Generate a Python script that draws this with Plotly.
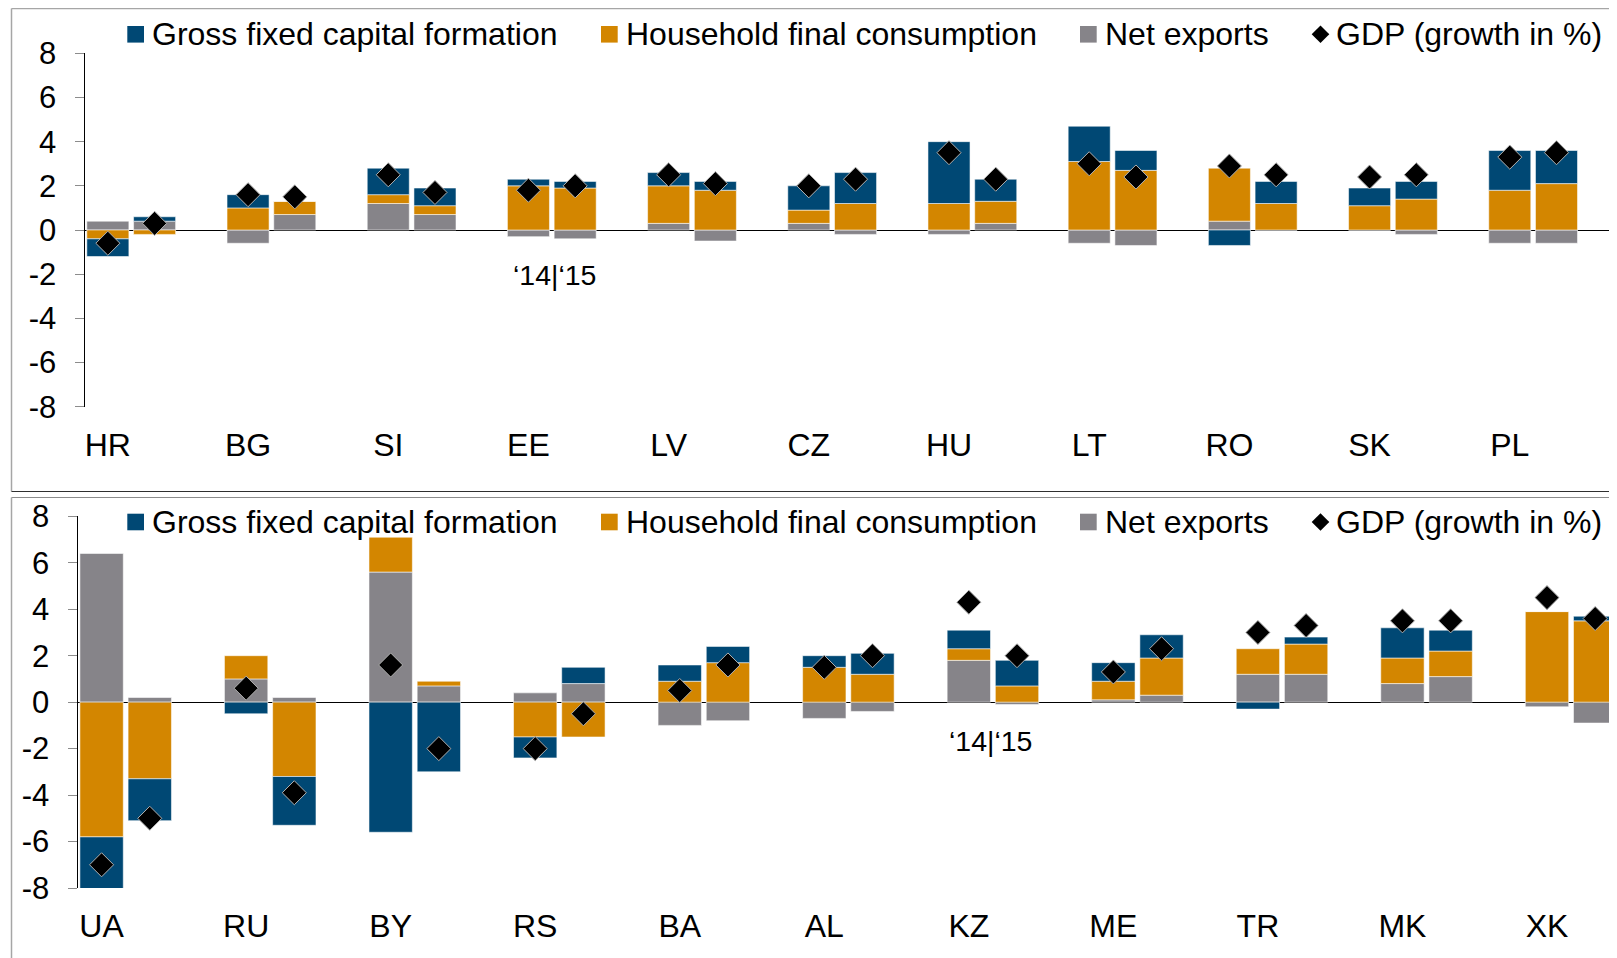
import plotly.graph_objects as go

# reference canvas and page offset of the plot div (body margin)
REF_W, REF_H = 1617, 958
OFF = 8
W, H = REF_W - OFF, REF_H - OFF

# ---------------- data ----------------
top_countries = ["HR", "BG", "SI", "EE", "LV", "CZ", "HU", "LT", "RO", "SK", "PL"]
top_net_14 = [0.4, -0.6, 1.2, -0.3, 0.3, 0.3, -0.2, -0.6, 0.4, 0.0, -0.6]
top_net_15 = [0.4, 0.7, 0.7, -0.4, -0.5, -0.2, 0.3, -0.7, 0.0, -0.2, -0.6]
top_hh_14 = [-0.4, 1.0, 0.4, 2.0, 1.7, 0.6, 1.2, 3.1, 2.4, 1.1, 1.8]
top_hh_15 = [-0.2, 0.6, 0.4, 1.9, 1.8, 1.2, 1.0, 2.7, 1.2, 1.4, 2.1]
top_gfcf_14 = [-0.8, 0.6, 1.2, 0.3, 0.6, 1.1, 2.8, 1.6, -0.7, 0.8, 1.8]
top_gfcf_15 = [0.2, 0.0, 0.8, 0.3, 0.4, 1.4, 1.0, 0.9, 1.0, 0.8, 1.5]
top_gdp_14 = [-0.6, 1.6, 2.5, 1.8, 2.5, 2.0, 3.5, 3.0, 2.9, 2.4, 3.3]
top_gdp_15 = [0.3, 1.5, 1.7, 2.0, 2.1, 2.3, 2.3, 2.4, 2.5, 2.5, 3.5]

bot_countries = ["UA", "RU", "BY", "RS", "BA", "AL", "KZ", "ME", "TR", "MK", "XK"]
bot_net_14 = [6.4, 1.0, 5.6, 0.4, -1.0, -0.7, 1.8, 0.1, 1.2, 0.8, -0.2]
bot_net_15 = [0.2, 0.2, 0.7, 0.8, -0.8, -0.4, -0.1, 0.3, 1.2, 1.1, -0.9]
bot_hh_14 = [-5.8, 1.0, 1.5, -1.5, 0.9, 1.5, 0.5, 0.8, 1.1, 1.1, 3.9]
bot_hh_15 = [-3.3, -3.2, 0.2, -1.5, 1.7, 1.2, 0.7, 1.6, 1.3, 1.1, 3.5]
bot_gfcf_14 = [-2.3, -0.5, -5.6, -0.9, 0.7, 0.5, 0.8, 0.8, -0.3, 1.3, 0.0]
bot_gfcf_15 = [-1.8, -2.1, -3.0, 0.7, 0.7, 0.9, 1.1, 1.0, 0.3, 0.9, 0.2]
bot_gdp_14 = [-7.0, 0.6, 1.6, -2.0, 0.5, 1.5, 4.3, 1.3, 3.0, 3.5, 4.5]
bot_gdp_15 = [-5.0, -3.9, -2.0, -0.5, 1.6, 2.0, 2.0, 2.3, 3.3, 3.5, 3.6]

series_names = ["Gross fixed capital formation", "Household final consumption",
                "Net exports", "GDP (growth in %)"]
y_ticks = [-8, -6, -4, -2, 0, 2, 4, 6, 8]
year_label = "\u201814|\u201815"

# ---------------- styles ----------------
C_GFCF = "#004874"
C_HH = "#D38600"
C_NET = "#868489"
FONT = "Liberation Sans, Arial, sans-serif"


def px_x(p):
    return (p - OFF) / W


def px_y(p):
    return 1 - (p - OFF) / H


def interleave(a, b):
    out = []
    for u, v in zip(a, b):
        out += [u, v]
    return out


def positions(n):
    xs = []
    for i in range(n):
        xs += [3 * i, 3 * i + 1]
    return xs


fig = go.Figure()

panels = [
    (top_countries, top_net_14, top_net_15, top_hh_14, top_hh_15,
     top_gfcf_14, top_gfcf_15, top_gdp_14, top_gdp_15, "x", "y"),
    (bot_countries, bot_net_14, bot_net_15, bot_hh_14, bot_hh_15,
     bot_gfcf_14, bot_gfcf_15, bot_gdp_14, bot_gdp_15, "x2", "y2"),
]

for (cats, n14, n15, h14, h15, g14, g15, d14, d15, xa, ya) in panels:
    xs = positions(len(cats))
    for name, a, b, col in [(series_names[2], n14, n15, C_NET),
                            (series_names[1], h14, h15, C_HH),
                            (series_names[0], g14, g15, C_GFCF)]:
        fig.add_trace(go.Bar(
            x=xs, y=interleave(a, b), name=name, width=0.9,
            marker=dict(color=col, line=dict(color="rgba(255,255,255,0.55)", width=1)),
            xaxis=xa, yaxis=ya, showlegend=False))
    fig.add_trace(go.Scatter(
        x=xs, y=interleave(d14, d15), mode="markers", name=series_names[3],
        marker=dict(symbol="diamond", size=18.5, color="black",
                    line=dict(color="#b0b0b0", width=1)),
        xaxis=xa, yaxis=ya, showlegend=False, cliponaxis=False))

# axis geometry (reference pixels)
top_axis_x, top_slot = 84.5, 46.73
bot_axis_x, bot_slot = 77.5, 48.18
top_y0, top_y1 = 53.3, 406.7
bot_y0, bot_y1 = 516.3, 888.0

yaxis_common = dict(
    range=[-8, 8], tickvals=y_ticks, ticktext=[str(v) for v in y_ticks],
    ticks="outside", ticklen=9, tickcolor="#8c8c8c", tickwidth=1,
    showline=True, linecolor="black", linewidth=1,
    zeroline=True, zerolinecolor="black", zerolinewidth=1,
    showgrid=False, tickfont=dict(size=31, color="black", family=FONT),
    ticklabelstandoff=12, layer="above traces", fixedrange=True, automargin=False,
)
xaxis_common = dict(
    showline=False, zeroline=False, showgrid=False, ticks="",
    tickfont=dict(size=32, color="black", family=FONT),
    ticklabelstandoff=16, fixedrange=True, automargin=False,
)

fig.update_layout(
    width=W, height=H, autosize=False,
    margin=dict(l=0, r=0, t=0, b=0, pad=0, autoexpand=False),
    paper_bgcolor="white", plot_bgcolor="rgba(0,0,0,0)",
    barmode="relative", bargap=0.1,
    showlegend=False,
    font=dict(family=FONT, color="black"),
    xaxis=dict(domain=[px_x(top_axis_x), 1],
               range=[-0.5, -0.5 + (REF_W - top_axis_x) / top_slot],
               tickvals=[3 * i for i in range(len(top_countries))],
               ticktext=top_countries, anchor="y", **xaxis_common),
    yaxis=dict(domain=[px_y(top_y1), px_y(top_y0)], anchor="x", **yaxis_common),
    xaxis2=dict(domain=[px_x(bot_axis_x), 1],
                range=[-0.5, -0.5 + (REF_W - bot_axis_x) / bot_slot],
                tickvals=[3 * i for i in range(len(bot_countries))],
                ticktext=bot_countries, anchor="y2", **xaxis_common),
    yaxis2=dict(domain=[px_y(bot_y1), px_y(bot_y0)], anchor="x2", **yaxis_common),
)

shapes = []
annotations = []

# panel borders
shapes.append(dict(type="line", xref="paper", yref="paper",
                   x0=px_x(11.5), x1=1, y0=px_y(8.5), y1=px_y(8.5),
                   line=dict(color="#a6a6a6", width=1.5)))
shapes.append(dict(type="line", xref="paper", yref="paper",
                   x0=px_x(11.5), x1=px_x(11.5), y0=px_y(8.5), y1=px_y(491.5),
                   line=dict(color="#a6a6a6", width=1.5)))
shapes.append(dict(type="line", xref="paper", yref="paper",
                   x0=px_x(11.5), x1=1, y0=px_y(491.5), y1=px_y(491.5),
                   line=dict(color="#303030", width=1.2)))
shapes.append(dict(type="line", xref="paper", yref="paper",
                   x0=px_x(11.5), x1=1, y0=px_y(497.5), y1=px_y(497.5),
                   line=dict(color="#8c8c8c", width=1.2)))
shapes.append(dict(type="line", xref="paper", yref="paper",
                   x0=px_x(11.5), x1=px_x(11.5), y0=px_y(497.5), y1=0,
                   line=dict(color="#a6a6a6", width=1.5)))

# legends (one per panel)
legend_items = [(127.3, C_GFCF, "square", 151.7),
                (601.0, C_HH, "square", 626.0),
                (1080.0, C_NET, "square", 1105.0),
                (1311.7, "black", "diamond", 1336.0)]
for yc in (34.3, 522.0):
    for (x0, col, kind, tx), name in zip(legend_items, series_names):
        if kind == "square":
            shapes.append(dict(type="rect", xref="paper", yref="paper",
                               x0=px_x(x0), x1=px_x(x0 + 16.7),
                               y0=px_y(yc - 8.3), y1=px_y(yc + 8.3),
                               fillcolor=col, line=dict(width=0)))
        else:
            cx, r = x0 + 8.8, 8.8
            pts = [(cx, yc - r), (cx + r, yc), (cx, yc + r), (cx - r, yc)]
            path = "M " + " L ".join(f"{px_x(a):.5f},{px_y(b):.5f}" for a, b in pts) + " Z"
            shapes.append(dict(type="path", xref="paper", yref="paper", path=path,
                               fillcolor=col, line=dict(width=0)))
        annotations.append(dict(xref="paper", yref="paper", x=px_x(tx - 2), y=px_y(yc),
                                xanchor="left", yanchor="middle", showarrow=False,
                                text=name, font=dict(size=32, color="black", family=FONT)))

# year markers
annotations.append(dict(xref="paper", yref="paper", x=px_x(554.5), y=px_y(275),
                        xanchor="center", yanchor="middle", showarrow=False,
                        text=year_label, font=dict(size=28.5, color="black", family=FONT)))
annotations.append(dict(xref="paper", yref="paper", x=px_x(990.5), y=px_y(741.3),
                        xanchor="center", yanchor="middle", showarrow=False,
                        text=year_label, font=dict(size=28.5, color="black", family=FONT)))

fig.update_layout(shapes=shapes, annotations=annotations)

fig.write_html("out.html")
